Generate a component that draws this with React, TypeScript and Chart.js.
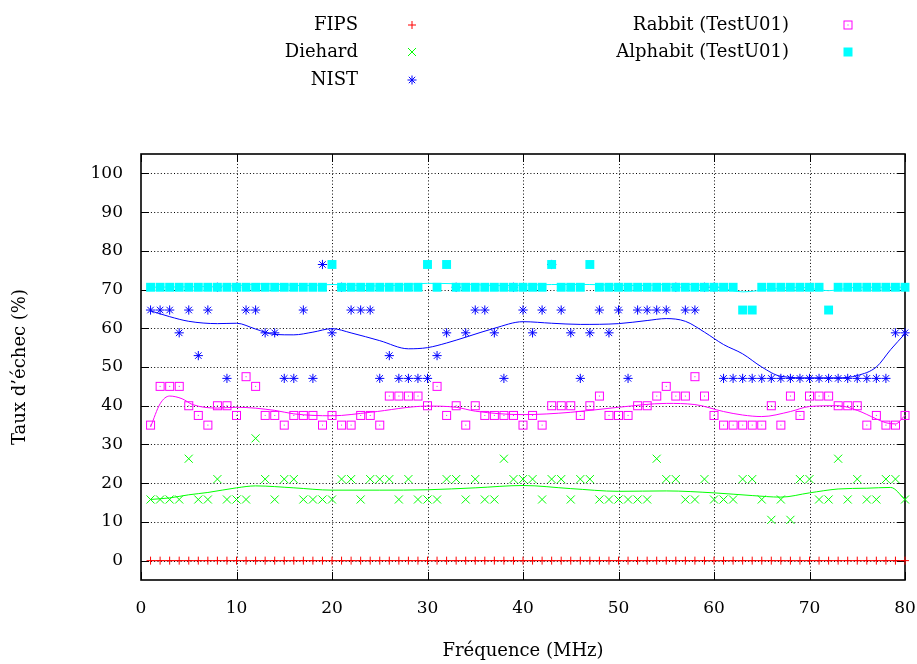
import React, { useEffect, useRef } from 'react';
import { Chart, registerables } from 'chart.js';

Chart.register(...registerables);

// ---------- data ----------
const frequencies = [
  1, 2, 3, 4, 5, 6, 7, 8, 9, 10,
  11, 12, 13, 14, 15, 16, 17, 18, 19, 20,
  21, 22, 23, 24, 25, 26, 27, 28, 29, 30,
  31, 32, 33, 34, 35, 36, 37, 38, 39, 40,
  41, 42, 43, 44, 45, 46, 47, 48, 49, 50,
  51, 52, 53, 54, 55, 56, 57, 58, 59, 60,
  61, 62, 63, 64, 65, 66, 67, 68, 69, 70,
  71, 72, 73, 74, 75, 76, 77, 78, 79, 80,
];

const fipsRates = [
  0, 0, 0, 0, 0, 0, 0, 0, 0, 0,
  0, 0, 0, 0, 0, 0, 0, 0, 0, 0,
  0, 0, 0, 0, 0, 0, 0, 0, 0, 0,
  0, 0, 0, 0, 0, 0, 0, 0, 0, 0,
  0, 0, 0, 0, 0, 0, 0, 0, 0, 0,
  0, 0, 0, 0, 0, 0, 0, 0, 0, 0,
  0, 0, 0, 0, 0, 0, 0, 0, 0, 0,
  0, 0, 0, 0, 0, 0, 0, 0, 0, 0,
];

const diehardRates = [
  15.79, 15.79, 15.79, 15.79, 26.32, 15.79, 15.79, 21.05, 15.79, 15.79,
  15.79, 31.58, 21.05, 15.79, 21.05, 21.05, 15.79, 15.79, 15.79, 15.79,
  21.05, 21.05, 15.79, 21.05, 21.05, 21.05, 15.79, 21.05, 15.79, 15.79,
  15.79, 21.05, 21.05, 15.79, 21.05, 15.79, 15.79, 26.32, 21.05, 21.05,
  21.05, 15.79, 21.05, 21.05, 15.79, 21.05, 21.05, 15.79, 15.79, 15.79,
  15.79, 15.79, 15.79, 26.32, 21.05, 21.05, 15.79, 15.79, 21.05, 15.79,
  15.79, 15.79, 21.05, 21.05, 15.79, 10.53, 15.79, 10.53, 21.05, 21.05,
  15.79, 15.79, 26.32, 15.79, 21.05, 15.79, 15.79, 21.05, 21.05, 15.79,
];

const nistRates = [
  64.71, 64.71, 64.71, 58.82, 64.71, 52.94, 64.71, 70.59, 47.06, 70.59,
  64.71, 64.71, 58.82, 58.82, 47.06, 47.06, 64.71, 47.06, 76.47, 58.82,
  70.59, 64.71, 64.71, 64.71, 47.06, 52.94, 47.06, 47.06, 47.06, 47.06,
  52.94, 58.82, 70.59, 58.82, 64.71, 64.71, 58.82, 47.06, 70.59, 64.71,
  58.82, 64.71, 76.47, 64.71, 58.82, 47.06, 58.82, 64.71, 58.82, 64.71,
  47.06, 64.71, 64.71, 64.71, 64.71, 70.59, 64.71, 64.71, 70.59, 70.59,
  47.06, 47.06, 47.06, 47.06, 47.06, 47.06, 47.06, 47.06, 47.06, 47.06,
  47.06, 47.06, 47.06, 47.06, 47.06, 47.06, 47.06, 47.06, 58.82, 58.82,
];

const rabbitRates = [
  35, 45, 45, 45, 40, 37.5, 35, 40, 40, 37.5,
  47.5, 45, 37.5, 37.5, 35, 37.5, 37.5, 37.5, 35, 37.5,
  35, 35, 37.5, 37.5, 35, 42.5, 42.5, 42.5, 42.5, 40,
  45, 37.5, 40, 35, 40, 37.5, 37.5, 37.5, 37.5, 35,
  37.5, 35, 40, 40, 40, 37.5, 40, 42.5, 37.5, 37.5,
  37.5, 40, 40, 42.5, 45, 42.5, 42.5, 47.5, 42.5, 37.5,
  35, 35, 35, 35, 35, 40, 35, 42.5, 37.5, 42.5,
  42.5, 42.5, 40, 40, 40, 35, 37.5, 35, 35, 37.5,
];

const alphabitRates = [
  70.59, 70.59, 70.59, 70.59, 70.59, 70.59, 70.59, 70.59, 70.59, 70.59,
  70.59, 70.59, 70.59, 70.59, 70.59, 70.59, 70.59, 70.59, 70.59, 76.47,
  70.59, 70.59, 70.59, 70.59, 70.59, 70.59, 70.59, 70.59, 70.59, 76.47,
  70.59, 76.47, 70.59, 70.59, 70.59, 70.59, 70.59, 70.59, 70.59, 70.59,
  70.59, 70.59, 76.47, 70.59, 70.59, 70.59, 76.47, 70.59, 70.59, 70.59,
  70.59, 70.59, 70.59, 70.59, 70.59, 70.59, 70.59, 70.59, 70.59, 70.59,
  70.59, 70.59, 64.71, 64.71, 70.59, 70.59, 70.59, 70.59, 70.59, 70.59,
  70.59, 64.71, 70.59, 70.59, 70.59, 70.59, 70.59, 70.59, 70.59, 70.59,
];

// smoothed trend curves
const diehardTrendX = [1, 3, 5, 7, 10, 12, 16, 20, 25, 30, 35, 40, 45, 50, 55, 60, 64, 67, 70, 73, 76, 78.5, 80];
const diehardTrendY = [15.8, 16.2, 17, 17.6, 18.8, 19.3, 18.8, 18.2, 18.2, 18.3, 18.8, 19.4, 18.6, 17.9, 18, 17.5, 16.8, 16.4, 17.5, 18.5, 18.7, 18.9, 15.8];

const nistTrendX = [1, 3, 5, 8, 10, 12, 14, 16, 18, 20, 22, 25, 28, 30, 32, 34, 37, 40, 43, 46, 50, 53, 55, 57, 59, 61, 63, 65, 67, 70, 73, 75, 77, 78.5, 80];
const nistTrendY = [64.5, 63, 61.8, 61.2, 61.3, 59.8, 58.4, 58.3, 59, 59.9, 58.8, 56.8, 54.7, 55, 56.2, 57.7, 60, 61.7, 61.3, 61, 61.2, 62, 62.5, 61.8, 59, 55.8, 53.4, 50, 47.6, 47.2, 47.2, 47.8, 50, 54.5, 58.6];

const rabbitTrendX = [1, 2, 3, 4.3, 5.4, 8, 10, 14, 16, 20, 24, 30, 33, 35, 40, 45, 50, 55, 58, 61, 63, 65, 68, 70, 73, 75, 77, 78, 79, 80];
const rabbitTrendY = [34.5, 40.5, 42.5, 41.8, 40.3, 39.4, 39.6, 38.8, 37.9, 37.4, 38.3, 39.9, 39.6, 38.6, 37.7, 38.3, 39.6, 40.6, 40.3, 38.5, 37.6, 37.2, 38.5, 39.8, 40, 38.8, 36.6, 35.6, 35.3, 37.5];

const alphabitTrendX = [1, 5, 10, 13, 17, 20, 25, 30, 33, 38, 43, 47, 52, 56, 60, 63, 66, 69, 72, 75, 80];
const alphabitTrendY = [70.6, 70.7, 71, 71.5, 71, 71.3, 70.9, 71.6, 71.5, 71, 71.3, 71.3, 71, 71.4, 70.8, 69.4, 70.1, 70.6, 69.7, 70.6, 70.6];

const xTickValues = [0, 10, 20, 30, 40, 50, 60, 70, 80];
const yTickValues = [0, 10, 20, 30, 40, 50, 60, 70, 80, 90, 100];

const seriesLabels = ['FIPS', 'Diehard', 'NIST', 'Rabbit (TestU01)', 'Alphabit (TestU01)'];
const xTitle = 'Fréquence (MHz)';
const yTitle = 'Taux d’échec (%)';

// ---------- styling ----------
const FAMILY = '"DejaVu Serif", serif';
const RED = '#ff0000';
const GREEN = '#00ff00';
const BLUE = '#0000ff';
const MAGENTA = '#ff00ff';
const CYAN = '#00ffff';

const W = 917;
const H = 664;

function pts(xs: number[], ys: number[]) {
  return xs.map((x, i) => ({ x, y: ys[i] }));
}

function makeRabbitMarker() {
  const m = document.createElement('canvas');
  m.width = 11;
  m.height = 11;
  const c = m.getContext('2d')!;
  c.strokeStyle = MAGENTA;
  c.lineWidth = 1;
  c.strokeRect(1.5, 1.5, 8, 8);
  c.fillStyle = MAGENTA;
  c.fillRect(5, 5, 1, 1);
  return m;
}

function line(ctx: CanvasRenderingContext2D, x1: number, y1: number, x2: number, y2: number) {
  ctx.beginPath();
  ctx.moveTo(x1, y1);
  ctx.lineTo(x2, y2);
  ctx.stroke();
}

function drawMarker(ctx: CanvasRenderingContext2D, kind: string, x: number, y: number, img: HTMLCanvasElement) {
  ctx.save();
  ctx.lineWidth = 1;
  if (kind === 'cross') {
    ctx.strokeStyle = RED;
    line(ctx, x - 4, y, x + 4, y);
    line(ctx, x, y - 4, x, y + 4);
  } else if (kind === 'crossRot') {
    ctx.strokeStyle = GREEN;
    line(ctx, x - 4, y - 4, x + 4, y + 4);
    line(ctx, x - 4, y + 4, x + 4, y - 4);
  } else if (kind === 'star') {
    ctx.strokeStyle = BLUE;
    line(ctx, x - 4.5, y, x + 4.5, y);
    line(ctx, x, y - 4.5, x, y + 4.5);
    line(ctx, x - 3.2, y - 3.2, x + 3.2, y + 3.2);
    line(ctx, x - 3.2, y + 3.2, x + 3.2, y - 3.2);
  } else if (kind === 'rabbit') {
    ctx.drawImage(img, x - 5.5, y - 5.5);
  } else if (kind === 'rect') {
    ctx.fillStyle = CYAN;
    ctx.fillRect(x - 4.5, y - 4.5, 9, 9);
  }
  ctx.restore();
}

export default function App() {
  const canvasRef = useRef<HTMLCanvasElement | null>(null);

  useEffect(() => {
    const canvas = canvasRef.current;
    if (!canvas) return;
    const rabbitMarker = makeRabbitMarker();

    const framePlugin = {
      id: 'gnuFrame',
      beforeDatasetsDraw(chart: any) {
        const { ctx, chartArea: a, scales } = chart;
        const xs = scales.x;
        const ys = scales.y;
        ctx.save();
        ctx.strokeStyle = '#000';
        ctx.lineWidth = 1;
        ctx.setLineDash([1, 2.3]);
        for (const v of xTickValues) {
          const px = Math.round(xs.getPixelForValue(v)) + 0.5;
          if (v === xTickValues[0] || v === xTickValues[xTickValues.length - 1]) continue;
          line(ctx, px, a.top, px, a.bottom);
        }
        for (const v of yTickValues) {
          const py = Math.round(ys.getPixelForValue(v)) + 0.5;
          line(ctx, a.left, py, a.right, py);
        }
        ctx.setLineDash([]);
        ctx.lineWidth = 1;
        for (const v of xTickValues) {
          const px = Math.round(xs.getPixelForValue(v)) + 0.5;
          line(ctx, px, a.bottom, px, a.bottom - 8);
          line(ctx, px, a.top, px, a.top + 8);
        }
        for (const v of yTickValues) {
          const py = Math.round(ys.getPixelForValue(v)) + 0.5;
          line(ctx, a.left, py, a.left + 8, py);
          line(ctx, a.right, py, a.right - 8, py);
        }
        ctx.lineWidth = 1.6;
        ctx.strokeRect(a.left, a.top, a.right - a.left, a.bottom - a.top);
        ctx.restore();
      },
    };

    const legendPlugin = {
      id: 'gnuKey',
      afterDraw(chart: any) {
        const { ctx } = chart;
        const entries = [
          { text: seriesLabels[0], kind: 'cross', tx: 358, mx: 412, y: 25 },
          { text: seriesLabels[1], kind: 'crossRot', tx: 358, mx: 412, y: 52 },
          { text: seriesLabels[2], kind: 'star', tx: 358, mx: 412, y: 80 },
          { text: seriesLabels[3], kind: 'rabbit', tx: 789, mx: 848, y: 25 },
          { text: seriesLabels[4], kind: 'rect', tx: 789, mx: 848, y: 52 },
        ];
        ctx.save();
        ctx.font = `18px ${FAMILY}`;
        ctx.fillStyle = '#000';
        ctx.textAlign = 'right';
        ctx.textBaseline = 'middle';
        for (const e of entries) {
          ctx.fillText(e.text, e.tx, e.y);
          drawMarker(ctx, e.kind, e.mx, e.y, rabbitMarker);
        }
        ctx.restore();
      },
    };

    const chart = new Chart(canvas, {
      type: 'scatter',
      data: {
        datasets: [
          {
            label: seriesLabels[0],
            data: pts(frequencies, fipsRates),
            showLine: true,
            borderColor: RED,
            borderWidth: 1,
            pointStyle: 'cross',
            pointRadius: 4,
            pointBorderColor: RED,
            pointBorderWidth: 1,
            order: 10,
            clip: false,
          },
          {
            label: seriesLabels[1],
            data: pts(frequencies, diehardRates),
            showLine: false,
            pointStyle: 'crossRot',
            pointRadius: 5.7,
            pointBorderColor: GREEN,
            pointBorderWidth: 1,
            order: 9,
            clip: false,
          },
          {
            label: seriesLabels[1] + ' (lissé)',
            data: pts(diehardTrendX, diehardTrendY),
            showLine: true,
            borderColor: GREEN,
            borderWidth: 1,
            pointRadius: 0,
            cubicInterpolationMode: 'monotone',
            order: 8,
          },
          {
            label: seriesLabels[2],
            data: pts(frequencies, nistRates),
            showLine: false,
            pointStyle: 'star',
            pointRadius: 4.6,
            pointBorderColor: BLUE,
            pointBorderWidth: 1,
            order: 7,
            clip: false,
          },
          {
            label: seriesLabels[2] + ' (lissé)',
            data: pts(nistTrendX, nistTrendY),
            showLine: true,
            borderColor: BLUE,
            borderWidth: 1,
            pointRadius: 0,
            cubicInterpolationMode: 'monotone',
            order: 6,
          },
          {
            label: seriesLabels[3],
            data: pts(frequencies, rabbitRates),
            showLine: false,
            pointStyle: rabbitMarker,
            pointRadius: 5,
            order: 5,
            clip: false,
          },
          {
            label: seriesLabels[3] + ' (lissé)',
            data: pts(rabbitTrendX, rabbitTrendY),
            showLine: true,
            borderColor: MAGENTA,
            borderWidth: 1,
            pointRadius: 0,
            cubicInterpolationMode: 'monotone',
            order: 4,
          },
          {
            label: seriesLabels[4] + ' (lissé)',
            data: pts(alphabitTrendX, alphabitTrendY),
            showLine: true,
            borderColor: CYAN,
            borderWidth: 1,
            pointRadius: 0,
            cubicInterpolationMode: 'monotone',
            order: 3,
          },
          {
            label: seriesLabels[4],
            data: pts(frequencies, alphabitRates),
            showLine: false,
            pointStyle: 'rect',
            pointRadius: 6.3,
            pointBackgroundColor: CYAN,
            pointBorderColor: CYAN,
            pointBorderWidth: 0,
            order: 2,
            clip: false,
          },
        ] as any,
      },
      options: {
        responsive: false,
        animation: false,
        devicePixelRatio: 1,
        layout: { padding: { top: 154, right: 12, bottom: 0, left: 0 } },
        plugins: {
          legend: { display: false },
          tooltip: { enabled: false },
        },
        scales: {
          x: {
            type: 'linear',
            min: 0,
            max: 80,
            afterBuildTicks: (s: any) => {
              s.ticks = xTickValues.map((v) => ({ value: v }));
            },
            afterFit: (s: any) => {
              s.height = 84;
              s.paddingLeft = 0;
              s.paddingRight = 0;
            },
            grid: { display: false, drawTicks: false },
            border: { display: false },
            ticks: {
              color: '#000',
              font: { family: FAMILY, size: 17 },
              padding: 18,
              maxRotation: 0,
              autoSkip: false,
            },
            title: {
              display: true,
              text: xTitle,
              color: '#000',
              font: { family: FAMILY, size: 18 },
              padding: { top: 0, bottom: 2 },
            },
          },
          y: {
            type: 'linear',
            min: -5,
            max: 105,
            afterBuildTicks: (s: any) => {
              s.ticks = yTickValues.map((v) => ({ value: v }));
            },
            afterFit: (s: any) => {
              s.width = 141;
              s.paddingTop = 0;
              s.paddingBottom = 0;
            },
            grid: { display: false, drawTicks: false },
            border: { display: false },
            ticks: {
              color: '#000',
              font: { family: FAMILY, size: 17 },
              padding: 18,
              autoSkip: false,
            },
            title: {
              display: true,
              text: yTitle,
              color: '#000',
              font: { family: FAMILY, size: 18 },
              padding: { top: 10, bottom: 0 },
            },
          },
        },
      } as any,
      plugins: [framePlugin, legendPlugin],
    });

    return () => {
      chart.destroy();
    };
  }, []);

  return (
    <div style={{ position: 'absolute', left: 0, top: 0, width: W, height: H, background: '#fff' }}>
      <canvas ref={canvasRef} width={W} height={H} style={{ display: 'block', width: W, height: H }} />
    </div>
  );
}
